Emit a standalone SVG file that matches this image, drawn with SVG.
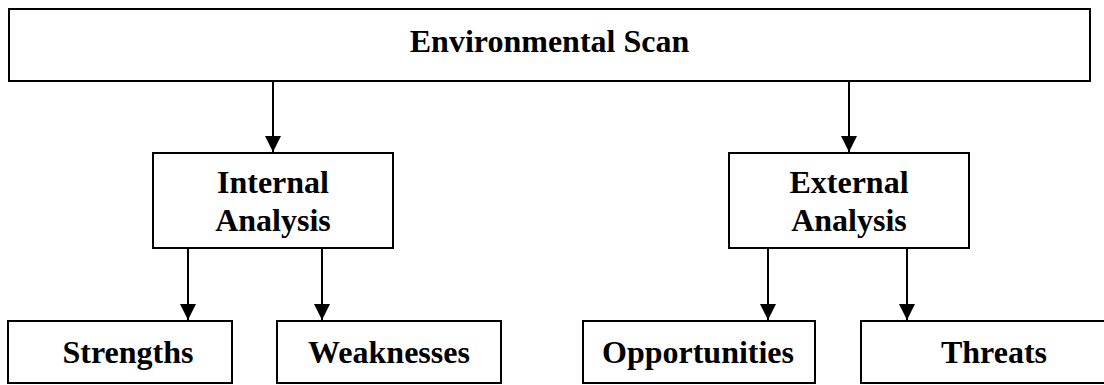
<svg xmlns="http://www.w3.org/2000/svg" width="1104" height="385" viewBox="0 0 1104 385">
  <style>
    .box { fill: #ffffff; stroke: #000000; stroke-width: 2; }
    .label { font-family: "Liberation Serif", "Times New Roman", serif; font-weight: bold; font-size: 32px; fill: #000000; text-anchor: middle; }
    .link { stroke: #000000; stroke-width: 2; fill: none; marker-end: url(#arrow); }
  </style>
  <defs>
    <marker id="arrow" markerUnits="userSpaceOnUse" markerWidth="16" markerHeight="16" viewBox="0 0 16 16" refX="16" refY="8" orient="auto">
      <path d="M0,0 L16,8 L0,16 Z" fill="#000000"/>
    </marker>
  </defs>
  <rect width="1104" height="385" fill="#ffffff"/>

  <g id="connectors">
    <line class="link" x1="273" y1="81" x2="273" y2="152"/>
    <line class="link" x1="849" y1="81" x2="849" y2="152"/>
    <line class="link" x1="188" y1="248" x2="188" y2="320"/>
    <line class="link" x1="322" y1="248" x2="322" y2="320"/>
    <line class="link" x1="768" y1="248" x2="768" y2="320"/>
    <line class="link" x1="907" y1="248" x2="907" y2="320"/>
  </g>

  <g id="environmental-scan">
    <rect class="box" x="9" y="9" width="1081" height="72"/>
    <text class="label" x="549.5" y="52">Environmental Scan</text>
  </g>

  <g id="internal-analysis">
    <rect class="box" x="153" y="153" width="240" height="95"/>
    <text class="label" x="273" y="193">Internal</text>
    <text class="label" x="273" y="231">Analysis</text>
  </g>

  <g id="external-analysis">
    <rect class="box" x="729" y="153" width="240" height="95"/>
    <text class="label" x="849" y="193">External</text>
    <text class="label" x="849" y="231">Analysis</text>
  </g>

  <g id="strengths">
    <rect class="box" x="8" y="321" width="224" height="62"/>
    <text class="label" x="128" y="363">Strengths</text>
  </g>

  <g id="weaknesses">
    <rect class="box" x="277" y="321" width="224" height="62"/>
    <text class="label" x="389" y="363">Weaknesses</text>
  </g>

  <g id="opportunities">
    <rect class="box" x="583" y="321" width="232" height="62"/>
    <text class="label" x="698" y="363">Opportunities</text>
  </g>

  <g id="threats">
    <rect class="box" x="861" y="321" width="266" height="62"/>
    <text class="label" x="994" y="363">Threats</text>
  </g>
</svg>
